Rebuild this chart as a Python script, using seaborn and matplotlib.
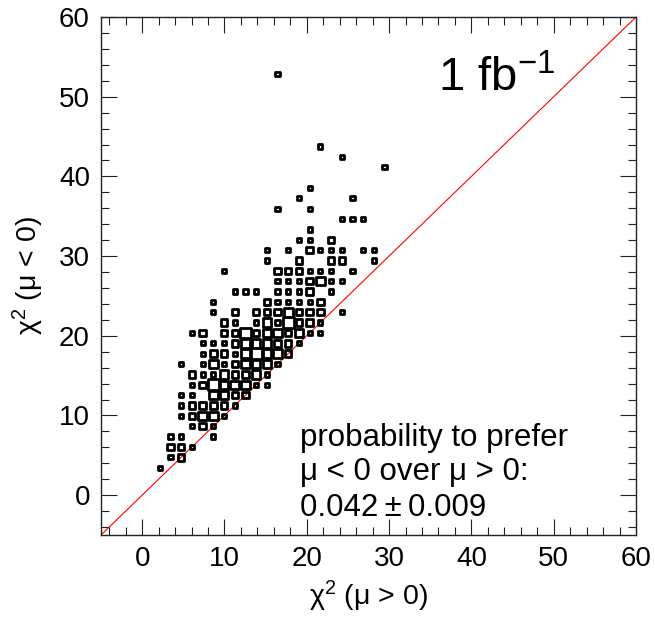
import numpy as np
import pandas as pd
import seaborn as sns
import matplotlib.pyplot as plt
from matplotlib.ticker import MultipleLocator

# -------------------------------------------------------
# Data: 2D histogram, 50 x 50 bins on [-5, 60] for both axes
# (bin index along chi2(mu>0), bin index along chi2(mu<0), entries)
# -------------------------------------------------------
x_bin = [5,
         6, 7,
         6, 7, 8,
         6, 7, 10,
         8, 9, 10,
         7, 8, 9, 10, 11,
         7, 8, 9, 10, 11, 12,
         7, 8, 10, 11, 12, 13,
         8, 9, 10, 11, 12, 13, 14, 15,
         8, 9, 10, 11, 12, 13, 14, 15,
         7, 9, 10, 11, 12, 13, 14, 15, 16,
         9, 10, 11, 12, 13, 14, 15, 16, 17,
         9, 10, 11, 12, 13, 14, 15, 16, 17, 18,
         8, 9, 11, 12, 13, 14, 15, 16, 17, 18, 19, 20,
         11, 12, 14, 15, 16, 17, 18, 19, 20,
         10, 12, 14, 15, 16, 17, 18, 19, 20, 22,
         10, 15, 16, 17, 18, 19, 20,
         12, 13, 14, 16, 17, 18, 19, 21,
         16, 17, 18, 19, 20, 21, 22,
         11, 16, 17, 18, 19, 20, 21, 23,
         15, 18, 21, 22, 25,
         15, 17, 19, 20, 21, 22, 24, 25,
         18, 19, 21,
         19,
         22, 23, 24,
         16, 19,
         18, 23,
         19,
         26,
         22,
         20,
         16]
y_bin = [6,
         7, 7,
         8, 8, 8,
         9, 9, 9,
         10, 10, 10,
         11, 11, 11, 11, 11,
         12, 12, 12, 12, 12, 12,
         13, 13, 13, 13, 13, 13,
         14, 14, 14, 14, 14, 14, 14, 14,
         15, 15, 15, 15, 15, 15, 15, 15,
         16, 16, 16, 16, 16, 16, 16, 16, 16,
         17, 17, 17, 17, 17, 17, 17, 17, 17,
         18, 18, 18, 18, 18, 18, 18, 18, 18, 18,
         19, 19, 19, 19, 19, 19, 19, 19, 19, 19, 19, 19,
         20, 20, 20, 20, 20, 20, 20, 20, 20,
         21, 21, 21, 21, 21, 21, 21, 21, 21, 21,
         22, 22, 22, 22, 22, 22, 22,
         23, 23, 23, 23, 23, 23, 23, 23,
         24, 24, 24, 24, 24, 24, 24,
         25, 25, 25, 25, 25, 25, 25, 25,
         26, 26, 26, 26, 26,
         27, 27, 27, 27, 27, 27, 27, 27,
         28, 28, 28,
         29,
         30, 30, 30,
         31, 31,
         32, 32,
         33,
         35,
         36,
         37,
         44]
entries = [1,
           1, 2,
           2, 2, 1,
           1, 1, 1,
           1, 2, 1,
           1, 2, 3, 3, 1,
           1, 2, 2, 2, 2, 1,
           1, 1, 3, 3, 2, 2,
           1, 2, 4, 3, 3, 3, 1, 1,
           2, 1, 1, 3, 2, 2, 3, 1,
           1, 1, 3, 1, 2, 3, 3, 3, 1,
           1, 2, 2, 1, 3, 4, 3, 3, 2,
           1, 1, 1, 2, 3, 3, 3, 2, 2, 1,
           1, 2, 2, 2, 4, 2, 3, 3, 2, 3, 1, 1,
           2, 1, 1, 3, 1, 4, 2, 2, 1,
           1, 2, 2, 2, 2, 3, 2, 2, 2, 1,
           1, 2, 1, 1, 1, 1, 2,
           1, 1, 1, 1, 1, 1, 2, 1,
           1, 1, 1, 2, 3, 1, 1,
           1, 2, 2, 2, 1, 1, 1, 1,
           1, 2, 2, 2, 1,
           1, 1, 2, 1, 1, 1, 1, 1,
           1, 1, 2,
           1,
           1, 1, 1,
           1, 1,
           1, 1,
           1,
           1,
           1,
           1,
           1]

edges = np.linspace(-5, 60, 51)
centers = 0.5 * (edges[:-1] + edges[1:])

df = pd.DataFrame({
    "chi2_pos": centers[x_bin],
    "chi2_neg": centers[y_bin],
    "n": entries,
})

# -------------------------------------------------------
# Figure
# -------------------------------------------------------
sns.set_style("ticks")
plt.rcParams["font.family"] = ["Liberation Sans", "DejaVu Sans"]
plt.rcParams["mathtext.fontset"] = "custom"
plt.rcParams["mathtext.rm"] = "Liberation Sans"
plt.rcParams["mathtext.it"] = "Liberation Sans:italic"
plt.rcParams["mathtext.default"] = "regular"
plt.rcParams["text.color"] = "black"
plt.rcParams["axes.labelcolor"] = "black"

fig, ax = plt.subplots(figsize=(6.55, 6.17), dpi=100)
fig.subplots_adjust(left=101 / 655, right=636 / 655, bottom=1 - 535 / 617, top=1 - 17 / 617)

# box side grows with bin content (ROOT "BOX" look)
ax_w_pt = 6.55 * 72 * (636 - 101) / 655
bin_pt = ax_w_pt / 65 * 1.3
nmax = max(entries)
size_map = {k: (bin_pt * (0.2 + 0.8 * k / nmax)) ** 2 for k in sorted(set(entries))}

ax.plot([-5, 60], [-5, 60], color="red", lw=0.8, zorder=1)

sns.scatterplot(
    data=df, x="chi2_pos", y="chi2_neg",
    size="n", sizes=size_map, marker="s",
    facecolor="none", edgecolor="black", linewidth=2.0,
    legend=False, ax=ax, zorder=2,
)

ax.set_xlim(-5, 60)
ax.set_ylim(-5, 60)
ax.set_xticks(np.arange(0, 61, 10))
ax.set_yticks(np.arange(0, 61, 10))
ax.xaxis.set_minor_locator(MultipleLocator(2))
ax.yaxis.set_minor_locator(MultipleLocator(2))
ax.tick_params(which="both", direction="in", top=True, right=True,
               width=0.8, color="#222222", labelsize=20, labelcolor="black")
ax.tick_params(which="major", length=11.5, pad=8)
ax.tick_params(which="minor", length=5.8)
for s in ax.spines.values():
    s.set_linewidth(1.0)
    s.set_color("#222222")

ax.set_xlabel("χ$^2$ (μ > 0)", fontsize=20.5, labelpad=5)
ax.set_ylabel("χ$^2$ (μ < 0)", fontsize=20.5, labelpad=9)

ax.text(0.630, 0.857, "1 fb$^{-1}$", transform=ax.transAxes, fontsize=34,
        ha="left", va="baseline")
ax.text(0.372, 0.172, "probability to prefer", transform=ax.transAxes,
        fontsize=22.5, ha="left", va="baseline")
ax.text(0.372, 0.106, "μ < 0 over μ > 0:", transform=ax.transAxes,
        fontsize=22.5, ha="left", va="baseline")
ax.text(0.372, 0.037, "0.042\u2009±\u20090.009", transform=ax.transAxes,
        fontsize=22.5, ha="left", va="baseline")

plt.savefig("out.png", dpi=100)
